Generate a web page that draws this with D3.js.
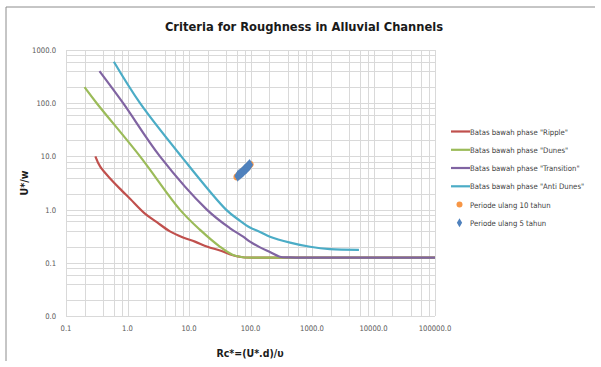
<!DOCTYPE html>
<html>
<head>
<meta charset="utf-8">
<script src="https://cdn.jsdelivr.net/npm/d3@7"></script>
<style>
  body { margin: 0; background: #fff; }
  text { font-family: "Liberation Sans Narrow", "DejaVu Sans Condensed", Arial, sans-serif; }
</style>
</head>
<body>
<svg id="chart" width="601" height="367"></svg>
<script>
// series data [Rc*, U*/w]
const ripple = [[0.3,10],[0.36,6.4],[0.55,3.6],[0.8,2.3],[1.1,1.6],[1.9,0.85],[3,0.58],[4.9,0.39],[8,0.3],[12.5,0.25],[20,0.2],[32,0.17],[50,0.14],[75,0.127],[150,0.125],[1000,0.125],[10000,0.125],[100000,0.125]];
const dunes = [[0.2,200],[0.316,100],[1.6,10],[7.1,1.0],[15,0.42],[32,0.2],[52,0.14],[75,0.127],[150,0.125],[1000,0.125],[10000,0.125],[100000,0.125]];
const transition = [[0.35,400],[0.85,100],[3.37,10],[19.5,1.0],[46,0.45],[76,0.31],[98,0.25],[143,0.195],[207,0.16],[300,0.13],[440,0.126],[1000,0.125],[10000,0.125],[100000,0.125]];
const antiDunes = [[0.6,600],[1.6,100],[7.5,10],[40,1.0],[67,0.62],[98,0.46],[143,0.38],[207,0.31],[440,0.24],[930,0.2],[1960,0.18],[5800,0.175]];
const periode10 = [[60,4.1],[64,4.4],[67,4.6],[71,4.9],[75,5.2],[79,5.5],[83,5.8],[87,6.1],[91,6.4],[95,6.8],[99,7.1]];
const periode5 = [[62,4.3],[65,4.5],[68,4.7],[71,4.9],[74,5.1],[77,5.3],[80,5.6],[83,5.8],[86,6.0],[89,6.3],[92,6.5],[95,6.8],[97,7.0]];

const lineSeries = [
  { name: 'Batas bawah phase "Ripple"', data: ripple, color: '#C0504D' },
  { name: 'Batas bawah phase "Dunes"', data: dunes, color: '#9BBB59' },
  { name: 'Batas bawah phase "Transition"', data: transition, color: '#8064A2' },
  { name: 'Batas bawah phase "Anti Dunes"', data: antiDunes, color: '#4BACC6' }
];
const xTicks = [0.1, 1, 10, 100, 1000, 10000, 100000];
const yTicks = [0.01, 0.1, 1, 10, 100, 1000];

const svg = d3.select('#chart');

// outer frame (only top and left show)
svg.append('path')
  .attr('d', 'M6,361V7H595')
  .attr('fill', 'none').attr('stroke', '#8c8c8c').attr('stroke-width', 1);

const x = d3.scaleLog().domain([0.1, 100000]).range([66, 435]);
const y = d3.scaleLog().domain([0.01, 1000]).range([316, 50]);

// grid: majors + minors at 2,4,6,8
const grid = svg.append('g');
let xg = [], yg = [];
xTicks.forEach(t => { xg.push(t); if (t < 100000) [2,4,6,8].forEach(m => xg.push(t*m)); });
yTicks.forEach(t => { yg.push(t); if (t < 1000) [2,4,6,8].forEach(m => yg.push(t*m)); });
grid.selectAll('line.v').data(xg).enter().append('line')
  .attr('x1', d => Math.round(x(d)) + 0.5).attr('x2', d => Math.round(x(d)) + 0.5)
  .attr('y1', 50).attr('y2', 316)
  .attr('stroke', '#d9d9d9');
grid.selectAll('line.h').data(yg).enter().append('line')
  .attr('y1', d => Math.round(y(d)) + 0.5).attr('y2', d => Math.round(y(d)) + 0.5)
  .attr('x1', 66).attr('x2', 435)
  .attr('stroke', '#d9d9d9');

// tick labels
const fmt = d3.format('.1f');
svg.append('g').selectAll('text').data(xTicks).enter().append('text')
  .attr('x', d => x(d)).attr('y', 331)
  .attr('text-anchor', 'middle')
  .attr('font-size', 7.6).attr('fill', '#595959')
  .text(fmt);
svg.append('g').selectAll('text').data(yTicks).enter().append('text')
  .attr('x', 56).attr('y', d => y(d) + 3)
  .attr('text-anchor', 'end')
  .attr('font-size', 7.6).attr('fill', '#595959')
  .text(fmt);

// lines
const line = d3.line()
  .x(d => x(d[0])).y(d => y(d[1]))
  .curve(d3.curveCatmullRom.alpha(0.5));
svg.append('g').selectAll('path').data(lineSeries).enter().append('path')
  .attr('d', d => line(d.data))
  .attr('fill', 'none')
  .attr('stroke', d => d.color)
  .attr('stroke-width', 2.2);

// scatter
svg.append('g').selectAll('circle').data(periode10).enter().append('circle')
  .attr('cx', d => x(d[0])).attr('cy', d => y(d[1]))
  .attr('r', 3.4).attr('fill', '#F79646');
const diamond = d3.symbol().type(d3.symbolDiamond).size(38);
svg.append('g').selectAll('path').data(periode5).enter().append('path')
  .attr('transform', d => 'translate(' + x(d[0]) + ',' + y(d[1]) + ')')
  .attr('d', diamond).attr('fill', '#4F81BD');

// titles
svg.append('text')
  .attr('x', 304).attr('y', 31)
  .attr('text-anchor', 'middle')
  .attr('font-size', 12.8).attr('font-weight', 'bold').attr('fill', '#1a1a1a')
  .text('Criteria for Roughness in Alluvial Channels');
svg.append('text')
  .attr('transform', 'translate(28,183) rotate(-90)')
  .attr('text-anchor', 'middle')
  .attr('font-size', 10.5).attr('font-weight', 'bold').attr('fill', '#1a1a1a')
  .text('U*/w');
svg.append('text')
  .attr('x', 250).attr('y', 357)
  .attr('text-anchor', 'middle')
  .attr('font-size', 10.5).attr('font-weight', 'bold').attr('fill', '#1a1a1a')
  .text('Rc*=(U*.d)/\u03C5');

// legend
const lg = svg.append('g');
const rowY = [131.5, 149.8, 168, 186.3, 204.5, 222.8];
lineSeries.forEach((s, i) => {
  lg.append('line').attr('x1', 451).attr('x2', 470)
    .attr('y1', rowY[i]).attr('y2', rowY[i])
    .attr('stroke', s.color).attr('stroke-width', 2.2);
  lg.append('text').attr('x', 470).attr('y', rowY[i] + 3)
    .attr('font-size', 7.7).attr('fill', '#404040').text(s.name);
});
lg.append('circle').attr('cx', 459.5).attr('cy', rowY[4]).attr('r', 3).attr('fill', '#F79646');
lg.append('text').attr('x', 470).attr('y', rowY[4] + 3)
  .attr('font-size', 7.7).attr('fill', '#404040').text('Periode ulang 10 tahun');
lg.append('path').attr('transform', 'translate(459.5,' + rowY[5] + ')')
  .attr('d', d3.symbol().type(d3.symbolDiamond).size(24)).attr('fill', '#4F81BD');
lg.append('text').attr('x', 470).attr('y', rowY[5] + 3)
  .attr('font-size', 7.7).attr('fill', '#404040').text('Periode ulang 5 tahun');
</script>
</body>
</html>
